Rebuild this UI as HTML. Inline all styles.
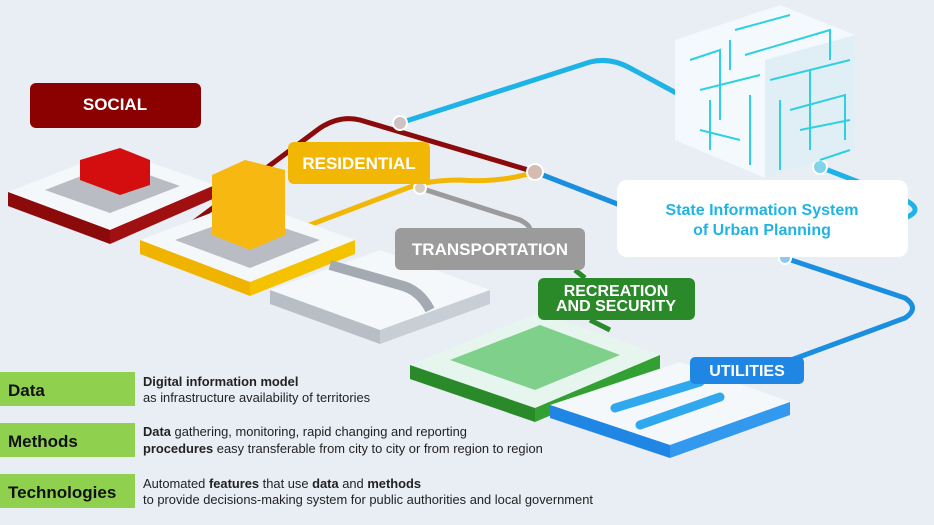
<!DOCTYPE html>
<html><head><meta charset="utf-8"><style>
body{margin:0;background:#e9edf4;}
svg{display:block}
.b{font-family:"Liberation Sans",sans-serif;font-weight:bold;}
.t{font-family:"Liberation Sans",sans-serif;font-size:12.9px;fill:#222;}
</style></head><body>
<svg width="934" height="525" viewBox="0 0 934 525" xmlns="http://www.w3.org/2000/svg">
<rect width="934" height="525" fill="#e9edf4"/>
<!-- connectors -->
<path d="M400,123 L590,62 Q610,57 630,68 L680,95" stroke="#1eb3e6" stroke-width="5" fill="none"/>
<path d="M535,172 L620,205" stroke="#1a8fe0" stroke-width="5" fill="none"/>
<path d="M820,167 L905,200 Q925,210 905,218" stroke="#1eb3e6" stroke-width="5" fill="none"/>
<path d="M785,258 L905,298 Q920,308 905,318 L715,388" stroke="#1a8fe0" stroke-width="5" fill="none"/>
<path d="M190,225 L320,128 Q340,115 360,120 L535,172" stroke="#8b0a0a" stroke-width="5" fill="none"/>
<path d="M270,240 L410,187 Q430,180 460,180 Q500,183 535,172" stroke="#f2b705" stroke-width="5" fill="none"/>
<path d="M420,188 L520,220 Q530,225 530,230" stroke="#9b9b9b" stroke-width="5" fill="none"/>
<path d="M575,270 L585,278" stroke="#2a8a2a" stroke-width="5"/>
<path d="M590,320 L610,330" stroke="#2a8a2a" stroke-width="5"/>
<circle cx="400" cy="123" r="7" fill="#cfc2c2" stroke="#fff" stroke-width="2"/>
<circle cx="535" cy="172" r="8" fill="#d4bdb0" stroke="#fff" stroke-width="2"/>
<circle cx="420" cy="188" r="6" fill="#d9cfc0" stroke="#fff" stroke-width="2"/>
<circle cx="820" cy="167" r="7" fill="#7fd4ea" stroke="#fff" stroke-width="2"/>
<circle cx="785" cy="258" r="6" fill="#8cc8ef" stroke="#fff" stroke-width="2"/>
<!-- cube -->
<polygon points="675,40 780,5 855,35 855,150 765,178 675,140" fill="#f3f9fc"/>
<polygon points="765,60 855,35 855,150 765,178" fill="#dfeff5"/>
<g stroke="#2fd0e0" stroke-width="2" fill="none">
<path d="M690,60 L720,50 L720,120 M700,90 L760,75 M735,30 L790,15 M745,55 L830,30 L830,60 M770,80 L850,60 M780,100 L780,170 M790,110 L845,95 L845,140 M800,130 L850,120 M700,130 L740,140 M710,100 L710,150 M750,95 L750,165 M810,70 L810,150 M730,40 L730,70 M820,160 L850,150"/>
</g>
<!-- platforms -->
<polygon points="8,192 115,150 215,185 110,230" fill="#f4f8fb"/>
<polygon points="8,192 110,230 110,244 8,206" fill="#8b0a0a"/>
<polygon points="110,230 215,185 215,198 110,244" fill="#a01010"/>
<polygon points="45,190 115,163 180,186 110,213" fill="#b9bcc3"/>
<polygon points="80,160 120,148 150,160 150,185 120,195 80,180" fill="#d40e0e"/>
<polygon points="140,240 245,200 355,240 250,282" fill="#f4f8fb"/>
<polygon points="140,240 250,282 250,296 140,254" fill="#f0b400"/>
<polygon points="250,282 355,240 355,254 250,296" fill="#f5c200"/>
<polygon points="175,240 245,215 320,240 250,268" fill="#b9bcc3"/>
<polygon points="212,175 245,160 285,170 285,235 250,250 212,235" fill="#f8b812"/>
<polygon points="270,290 380,250 490,290 380,330" fill="#f4f8fb"/>
<polygon points="270,290 380,330 380,344 270,304" fill="#b8bec6"/>
<polygon points="380,330 490,290 490,304 380,344" fill="#c8ced6"/>
<path d="M330,265 L400,285 Q420,290 430,310" stroke="#a4aab2" stroke-width="10" fill="none"/>
<polygon points="410,365 540,312 660,355 535,408" fill="#e6f6ef"/>
<polygon points="410,365 535,408 535,422 410,379" fill="#2a8a2a"/>
<polygon points="535,408 660,355 660,369 535,422" fill="#33a033"/>
<polygon points="450,360 540,325 620,355 535,390" fill="#7fd08a"/>
<polygon points="550,405 680,362 790,402 670,445" fill="#f4f8fb"/>
<polygon points="550,405 670,445 670,458 550,418" fill="#1f86e3"/>
<polygon points="670,445 790,402 790,415 670,458" fill="#3399ee"/>
<path d="M615,408 L700,382 M640,425 L720,397" stroke="#30a8ee" stroke-width="9" stroke-linecap="round"/>
<!-- labels -->
<rect x="30" y="83" width="171" height="45" rx="6" fill="#8b0000"/>
<text x="115" y="110" class="b" font-size="17" fill="#fff" text-anchor="middle">SOCIAL</text>
<rect x="288" y="142" width="142" height="42" rx="6" fill="#f2b705"/>
<text x="359" y="169" class="b" font-size="17" fill="#fff" text-anchor="middle">RESIDENTIAL</text>
<rect x="395" y="228" width="190" height="42" rx="6" fill="#9b9b9b"/>
<text x="490" y="255" class="b" font-size="17" fill="#fff" text-anchor="middle">TRANSPORTATION</text>
<rect x="538" y="278" width="157" height="42" rx="6" fill="#2a8a2a"/>
<text x="616" y="296" class="b" font-size="16" fill="#fff" text-anchor="middle">RECREATION</text>
<text x="616" y="311" class="b" font-size="16" fill="#fff" text-anchor="middle">AND SECURITY</text>
<rect x="690" y="357" width="114" height="27" rx="5" fill="#1f86e3"/>
<text x="747" y="376" class="b" font-size="16" fill="#fff" text-anchor="middle">UTILITIES</text>
<rect x="617" y="180" width="291" height="77" rx="10" fill="#fff"/>
<text x="762" y="215" class="b" font-size="16" fill="#1fb4e4" text-anchor="middle">State Information System</text>
<text x="762" y="235" class="b" font-size="16" fill="#1fb4e4" text-anchor="middle">of Urban Planning</text>
<!-- table -->
<rect x="0" y="372" width="135" height="34" fill="#8fd14f"/>
<text x="8" y="396" class="b" font-size="17" fill="#111">Data</text>
<text x="143" y="386" class="t" font-weight="bold">Digital information model</text>
<text x="143" y="402" class="t">as infrastructure availability of territories</text>
<rect x="0" y="423" width="135" height="34" fill="#8fd14f"/>
<text x="8" y="447" class="b" font-size="17" fill="#111">Methods</text>
<text x="143" y="436" class="t"><tspan font-weight="bold">Data</tspan> gathering, monitoring, rapid changing and reporting</text>
<text x="143" y="453" class="t"><tspan font-weight="bold">procedures</tspan> easy transferable from city to city or from region to region</text>
<rect x="0" y="474" width="135" height="34" fill="#8fd14f"/>
<text x="8" y="498" class="b" font-size="17" fill="#111">Technologies</text>
<text x="143" y="488" class="t">Automated <tspan font-weight="bold">features</tspan> that use <tspan font-weight="bold">data</tspan> and <tspan font-weight="bold">methods</tspan></text>
<text x="143" y="504" class="t">to provide decisions-making system for public authorities and local government</text>
</svg>
</body></html>
